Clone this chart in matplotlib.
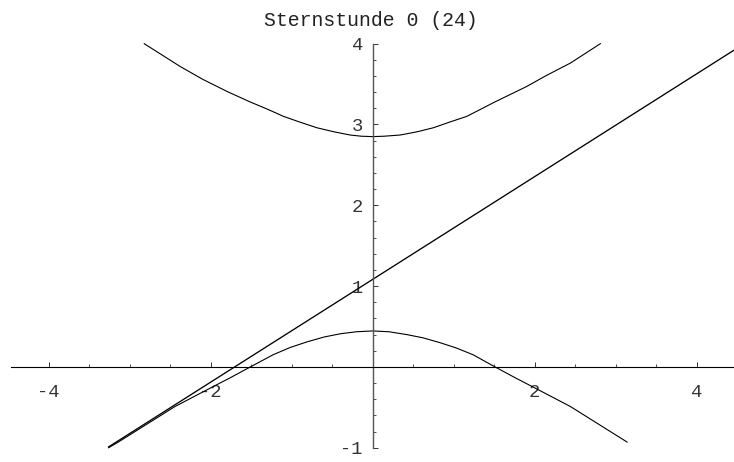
import matplotlib
matplotlib.use("Agg")
import matplotlib.pyplot as plt
import numpy as np


# oberer Ast
ast_oben_x = [-2.82, -2.38, -2.10, -1.80, -1.515, -1.30, -1.10, -0.90, -0.69, -0.48, -0.28, -0.14, 0.00,
              0.14, 0.34, 0.55, 0.75, 0.95, 1.16, 1.51, 1.90, 2.15, 2.44, 2.81]
ast_oben_y = [4.00, 3.72, 3.56, 3.41, 3.28, 3.19, 3.10, 3.03, 2.96, 2.91, 2.87, 2.855, 2.85,
              2.855, 2.87, 2.91, 2.96, 3.03, 3.10, 3.28, 3.47, 3.61, 3.76, 4.00]

# unterer Ast
ast_unten_x = [-3.26, -3.14, -2.79, -2.44, -2.02, -1.76, -1.51, -1.23, -1.02, -0.81, -0.60, -0.40, -0.20, 0.00,
               0.20, 0.42, 0.62, 0.83, 1.03, 1.24, 1.51, 1.76, 2.02, 2.44, 2.79, 3.14]
ast_unten_y = [-1.00, -0.93, -0.71, -0.49, -0.27, -0.135, 0.00, 0.15, 0.24, 0.31, 0.37, 0.41, 0.435, 0.445,
               0.435, 0.40, 0.36, 0.30, 0.235, 0.15, 0.00, -0.135, -0.27, -0.49, -0.71, -0.93]

# Gerade
gerade_x = [-3.26, 4.46]
gerade_y = [-0.99, 3.92]

xticks_major = [-4, -2, 2, 4]
yticks_major = [-1, 1, 2, 3, 4]

titel = "Sternstunde 0 (24)"

schrift = "Liberation Mono"

fig = plt.figure(figsize=(7.34, 4.62), dpi=100)
ax = fig.add_axes([11 / 734, 14.3 / 462, 723 / 734, 404 / 462])
ax.set_xlim(-4.465, 4.46)
ax.set_ylim(-1, 4)

ax.plot(ast_oben_x, ast_oben_y, color="black", lw=0.8, clip_on=False, solid_joinstyle="round")
ax.plot(ast_unten_x, ast_unten_y, color="black", lw=0.8, clip_on=False, solid_joinstyle="round")
ax.plot(gerade_x, gerade_y, color="black", lw=0.95, clip_on=False)

# Achsen durch den Ursprung
ax.spines["left"].set_position(("data", 0))
ax.spines["bottom"].set_position(("data", 0))
ax.spines["right"].set_visible(False)
ax.spines["top"].set_visible(False)
ax.spines["left"].set_color("#555555")
ax.spines["left"].set_linewidth(1.0)
ax.spines["bottom"].set_linewidth(0.8)

ax.set_xticks(xticks_major)
ax.set_xticks(np.arange(-4.0, 4.01, 0.5), minor=True)
ax.set_yticks(yticks_major)
ax.set_yticks(np.arange(-1.0, 4.01, 0.2), minor=True)
ax.set_xticklabels([str(v) for v in xticks_major], family=schrift, fontsize=13.5)
ax.set_yticklabels([str(v) for v in yticks_major], family=schrift, fontsize=13.5)

ax.tick_params(which="major", direction="in", length=3.6, width=0.7, colors="#333333")
ax.tick_params(which="minor", direction="in", length=2.3, width=0.6, colors="#333333")
ax.tick_params(axis="x", which="major", pad=12)
ax.tick_params(axis="y", which="major", pad=7)

fig.text(371 / 734, 1 - 20 / 462, titel, family=schrift, fontsize=14.3,
         ha="center", va="center", color="#222222")

fig.savefig("out.png", dpi=100)
